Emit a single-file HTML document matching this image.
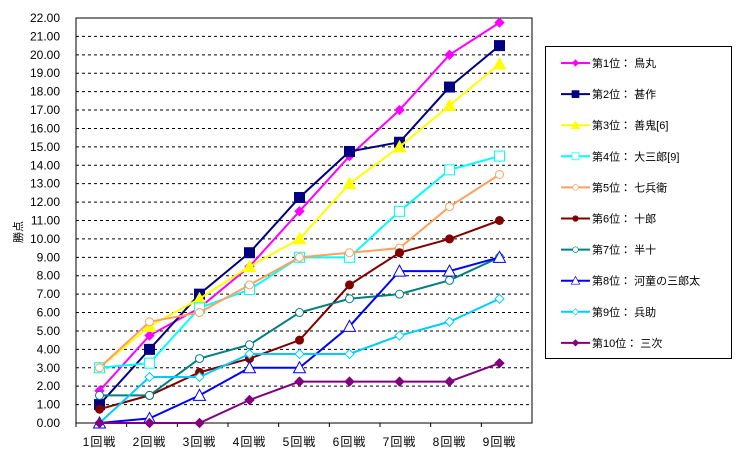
<!DOCTYPE html>
<html><head><meta charset="utf-8"><style>
body{margin:0;background:#fff;}
svg text{font-family:"Liberation Sans","Noto Sans CJK JP",sans-serif;font-size:11px;fill:#000;}
svg text.tick{font-size:12px;}
</style></head><body>
<svg id="chart" width="745" height="461" xmlns="http://www.w3.org/2000/svg">
<g id="grid"></g><g id="axes"></g><g id="series"></g><g id="legend"></g>
<text transform="translate(22,232) rotate(-90)" text-anchor="middle" font-size="12">勝点</text>
</svg>
<script>
const categories=["1回戦","2回戦","3回戦","4回戦","5回戦","6回戦","7回戦","8回戦","9回戦"];
const yTicks=[0,1,2,3,4,5,6,7,8,9,10,11,12,13,14,15,16,17,18,19,20,21,22];
const names=["第1位： 鳥丸","第2位： 甚作","第3位： 善鬼[6]","第4位： 大三郎[9]","第5位： 七兵衛","第6位： 十郎","第7位： 半十","第8位： 河童の三郎太","第9位： 兵助","第10位： 三次"];
const s1=[1.75,4.75,6.25,8.5,11.5,14.5,17,20,21.75];
const s2=[1,4,7,9.25,12.25,14.75,15.25,18.25,20.5];
const s3=[3,5.25,6.75,8.5,10,13,15,17.25,19.5];
const s4=[3,3.25,6.25,7.25,9,9,11.5,13.75,14.5];
const s5=[3,5.5,6,7.5,9,9.25,9.5,11.75,13.5];
const s6=[0.75,1.5,2.75,3.5,4.5,7.5,9.25,10,11];
const s7=[1.5,1.5,3.5,4.25,6,6.75,7,7.75,9];
const s8=[0,0.25,1.5,3,3,5.25,8.25,8.25,9];
const s9=[0,2.5,2.5,3.75,3.75,3.75,4.75,5.5,6.75];
const s10=[0,0,0,1.25,2.25,2.25,2.25,2.25,3.25];
const seriesData=[s1,s2,s3,s4,s5,s6,s7,s8,s9,s10];
const colors=["#ff00ff","#000080","#ffff00","#00ffff","#ffa060","#800000","#008080","#0000ff","#00ccff","#800080"];
const markers=["diamond","square","triangle","osquare","ocircle","circle","ocircle","otriangle","odiamond","diamond"];
const NS="http://www.w3.org/2000/svg";
const L=76,R=532,T=18,B=423,YMAX=22;
const y=v=>B-(v/YMAX)*(B-T);
const x=i=>99.5+i*50;
function mk(t,a,p){const e=document.createElementNS(NS,t);for(const k in a)e.setAttribute(k,a[k]);p.appendChild(e);return e;}
const grid=document.getElementById('grid'),axes=document.getElementById('axes'),ser=document.getElementById('series'),leg=document.getElementById('legend');
yTicks.forEach(v=>{
 if(v>0&&v<YMAX){const g=mk('line',{x1:L,x2:R,y1:y(v),y2:y(v),stroke:'#000','stroke-dasharray':'3,3','stroke-width':1},grid);
 
 }
 const t=mk('text',{x:L-16,y:y(v)+4,'text-anchor':'end','class':'tick'},axes);t.textContent=v.toFixed(2);
 
 
});
const frame=mk('rect',{x:L,y:T,width:R-L,height:B-T,fill:'none',stroke:'#000'},axes);


categories.forEach((c,i)=>{
 const tx=L+(i)*(R-L)/9;
 mk('line',{x1:tx,x2:tx,y1:B,y2:B+4,stroke:'#000'},axes);
 const t=mk('text',{x:x(i),y:B+23,'text-anchor':'middle','class':'tick','letter-spacing':'1'},axes);t.textContent=c;
 
 
});
function marker(p,m,cx,cy,col){
 const fill=m.startsWith('o')?'#fff':col; const k=m.replace(/^o/,'');
 if(k==='diamond')return mk('polygon',{points:`${cx},${cy-4.5} ${cx+4.5},${cy} ${cx},${cy+4.5} ${cx-4.5},${cy}`,fill:fill,stroke:col,'stroke-width':1},p);
 if(k==='square')return mk('rect',{x:cx-5,y:cy-5,width:10,height:10,fill:fill,stroke:col,'stroke-width':1},p);
 if(k==='triangle')return mk('polygon',{points:`${cx},${cy-6} ${cx+6},${cy+5} ${cx-6},${cy+5}`,fill:fill,stroke:col,'stroke-width':1},p);
 return mk('circle',{cx:cx,cy:cy,r:4,fill:fill,stroke:col,'stroke-width':1},p);
}
seriesData.forEach((d,si)=>{
 const g=mk('g',{},ser);
 
 
 mk('polyline',{points:d.map((v,i)=>x(i)+','+y(v)).join(' '),fill:'none',stroke:colors[si],'stroke-width':2},g);
 d.forEach((v,i)=>{const m=marker(g,markers[si],x(i),y(v),colors[si]);
  
  });
});
const lb=mk('rect',{x:545.5,y:46.5,width:186,height:312,fill:'#fff',stroke:'#000'},leg);


names.forEach((n,i)=>{
 const ly=63+i*31.1;
 const g=mk('g',{},leg);
 
 
 mk('line',{x1:561,x2:590,y1:ly,y2:ly,stroke:colors[i],'stroke-width':2},g);
 const m=marker(g,markers[i],575.5,ly,colors[i]);m.setAttribute('transform',`translate(${575.5*0.3},${ly*0.3}) scale(0.7)`);
 const t=mk('text',{x:592,y:ly+4},g);t.textContent=n;
});
</script>
</body></html>
